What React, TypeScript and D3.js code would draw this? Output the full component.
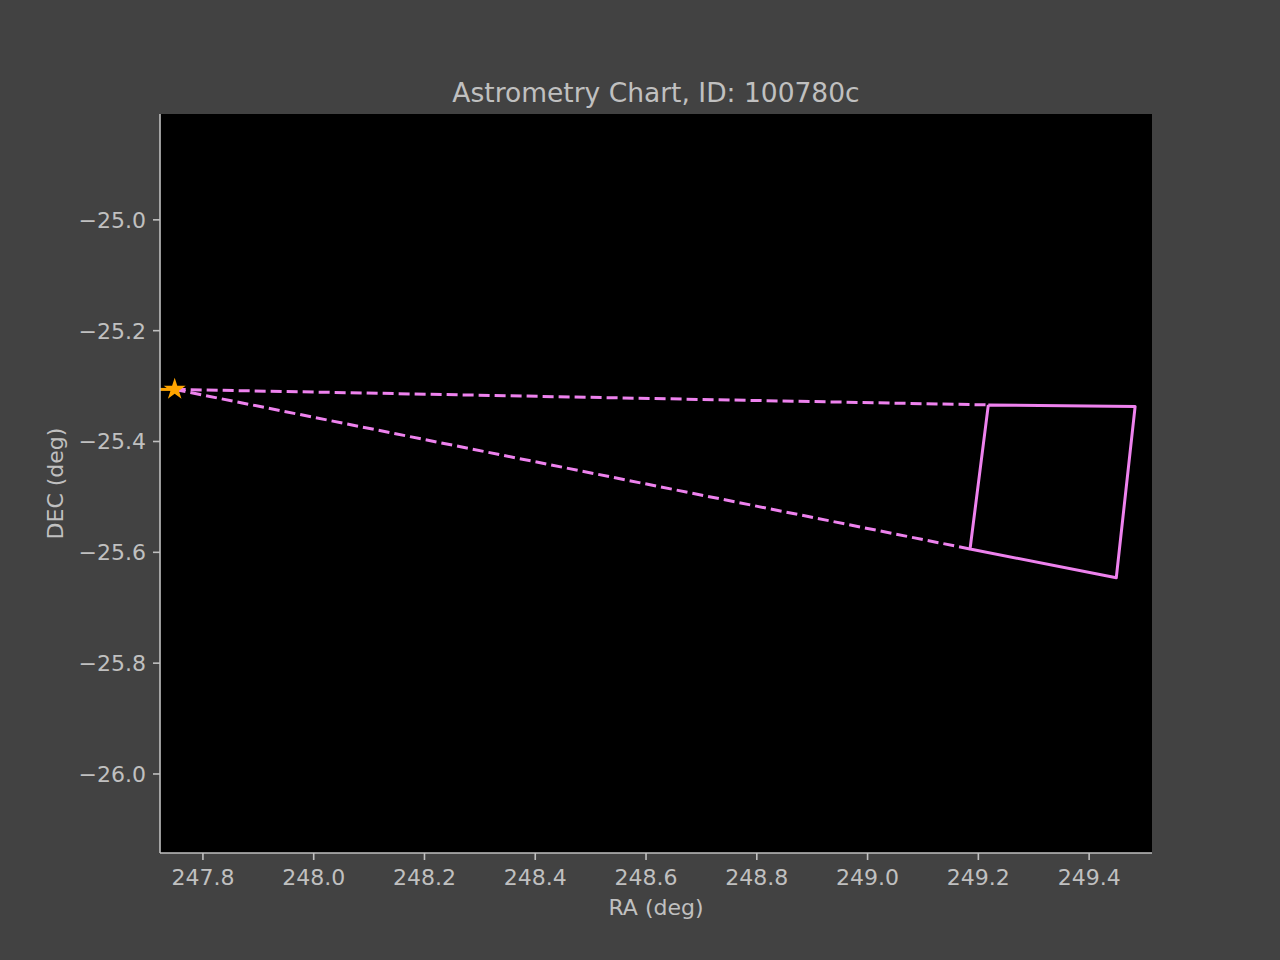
import React from "react";
import * as d3 from "d3";

const quadRA = [249.218, 249.483, 249.449, 249.185];
const quadDEC = [-25.334, -25.337, -25.646, -25.594];
const starRA = 247.749;
const starDEC = -25.306;
const trailRA = [247.7225, 247.749];
const trailDEC = [-25.306, -25.306];
const xTicks = [247.8, 248.0, 248.2, 248.4, 248.6, 248.8, 249.0, 249.2, 249.4];
const yTicks = [-25.0, -25.2, -25.4, -25.6, -25.8, -26.0];

export default function App() {
  const W = 1280, H = 960, L = 160, R = 1152, T = 114, B = 853;
  const x = d3.scaleLinear().domain([247.7225, 249.5135]).range([L, R]);
  const y = d3.scaleLinear().domain([-24.809, -26.1426]).range([T, B]);
  const pink = "#ee82ee";
  const quad = quadRA.map((r, i) => [x(r), y(quadDEC[i])] as [number, number]);
  const line = d3.line();
  const fmt = (v: number) => v.toFixed(1).replace("-", "\u2212");
  const font = "DejaVu Sans";
  const txt = "#c0c0c0";
  const star = d3.symbol(d3.symbolStar, 150)();
  return (
    <svg width={W} height={H} style={{ position: "absolute", left: 0, top: 0 }} fontFamily={font}>
      <rect width={W} height={H} fill="#424242" />
      <rect x={L} y={T} width={R - L} height={B - T} fill="#000" />
      <path d={line([[x(trailRA[0]), y(trailDEC[0])], [x(trailRA[1]), y(trailDEC[1])]])!} stroke="#ffa500" strokeWidth={3} />
      <path d={line([[x(starRA), y(starDEC)], quad[0]])!} stroke={pink} strokeWidth={3} strokeDasharray="11,5" fill="none" />
      <path d={line([[x(starRA), y(starDEC)], quad[3]])!} stroke={pink} strokeWidth={3} strokeDasharray="11,5" fill="none" />
      <path d={line([...quad, quad[0]])!} stroke={pink} strokeWidth={3} fill="none" strokeLinejoin="round" />
      <path d={star} transform={`translate(${x(starRA)},${y(starDEC)})`} fill="#ffa500" />
      <line x1={L} x2={L} y1={T} y2={B} stroke={txt} strokeWidth={1.6} />
      <line x1={L} x2={R} y1={B} y2={B} stroke={txt} strokeWidth={1.6} />
      {xTicks.map(t => (
        <g key={t}>
          <line x1={x(t)} x2={x(t)} y1={B} y2={B + 7} stroke={txt} strokeWidth={1.6} />
          <text x={x(t)} y={B + 32} fill={txt} fontSize={22} textAnchor="middle">{fmt(t)}</text>
        </g>
      ))}
      {yTicks.map(t => (
        <g key={t}>
          <line x1={L - 7} x2={L} y1={y(t)} y2={y(t)} stroke={txt} strokeWidth={1.6} />
          <text x={L - 14} y={y(t) + 8} fill={txt} fontSize={22} textAnchor="end">{fmt(t)}</text>
        </g>
      ))}
      <text x={(L + R) / 2} y={915} fill={txt} fontSize={22} textAnchor="middle">RA (deg)</text>
      <text transform={`translate(63,${(T + B) / 2}) rotate(-90)`} fill={txt} fontSize={22} textAnchor="middle">DEC (deg)</text>
      <text x={(L + R) / 2} y={102} fill={txt} fontSize={26.5} textAnchor="middle">Astrometry Chart, ID: 100780c</text>
    </svg>
  );
}
